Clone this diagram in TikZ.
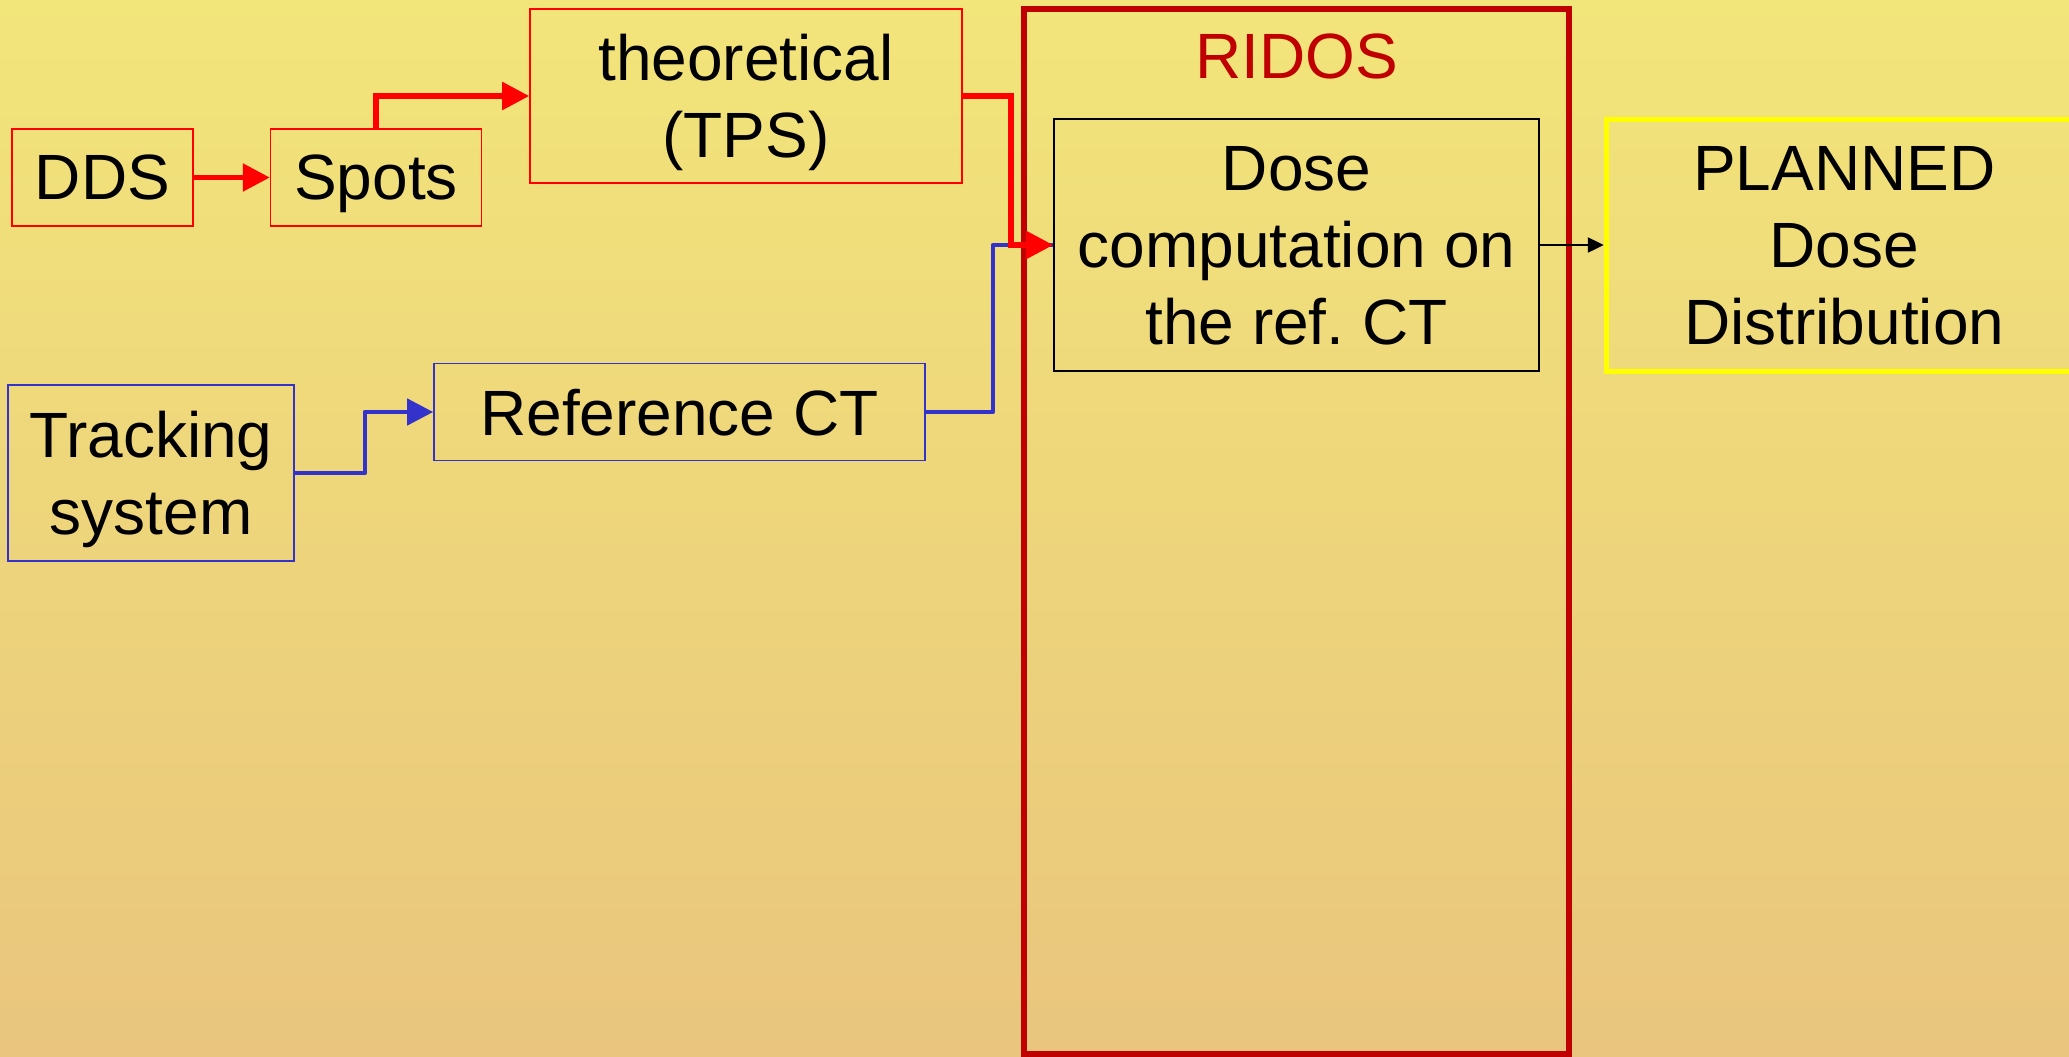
\documentclass[tikz,border=0pt]{standalone}
\usepackage{fontspec}
\setmainfont{Liberation Sans}
\usetikzlibrary{positioning,calc,arrows.meta}
\definecolor{BgTop}{HTML}{F2E57A}
\definecolor{BgBottom}{HTML}{E9C57D}
\definecolor{LinkRed}{HTML}{FF0000}
\definecolor{RidosRed}{HTML}{C00000}
\definecolor{TrackBlue}{HTML}{3333CC}
\definecolor{PlanYellow}{HTML}{FFFF00}

\begin{document}
\begin{tikzpicture}[
    x=0.5pt, y=-0.5pt,
    every node/.style={font=\fontsize{32}{38.5}\selectfont, inner sep=0pt, align=center, text=black, text depth=0pt},
    redbox/.style={rectangle, draw=LinkRed, line width=0.8pt},
    bluebox/.style={rectangle, draw=TrackBlue, line width=0.8pt},
    ridosbox/.style={rectangle, draw=RidosRed, line width=2.6pt},
    dosebox/.style={rectangle, draw=black, line width=0.8pt},
    planbox/.style={rectangle, draw=PlanYellow, line width=2.5pt},
    redarrow/.style={-{Triangle[length=13.5pt, width=13.5pt]}, line width=2.7pt, LinkRed},
    bluearrow/.style={-{Triangle[length=13pt, width=13pt]}, line width=2.2pt, TrackBlue, line join=round},
    blueline/.style={line width=2.2pt, TrackBlue, line join=round},
    thinarrow/.style={-{Triangle[length=8pt, width=7.5pt]}, line width=1.1pt, black}
  ]
    % Background
    \clip (0,0) rectangle (2069,1056);
    \shade [top color=BgTop, bottom color=BgBottom] (0,0) rectangle (2069,1056);

    % Beam data
    \node (dds) [redbox, minimum width=90.5pt, minimum height=48.5pt] at (102.5,177.5) {DDS};
    \node (spots) [redbox, right=38pt of dds, minimum width=105.5pt, minimum height=48.5pt] {Spots};
    \node (tps) [redbox, minimum width=216pt, minimum height=87pt] at (746,96) {theoretical\\(TPS)};

    % Patient data
    \node (track) [bluebox, minimum width=143pt, minimum height=88pt] at (151,473) {Tracking\\system};
    \node (refct) [bluebox, minimum width=245.5pt, minimum height=48.5pt] at (679.5,412) {Reference CT};

    % RIDOS block
    \node (ridos) [ridosbox, minimum width=272.5pt, minimum height=522.5pt] at (1296.5,531.5) {};
    \node (ridostitle) [text=RidosRed] at ([yshift=-25pt]ridos.north) {RIDOS};
    \node (dose) [dosebox, minimum width=242.5pt, minimum height=126pt] at (1296.5,245) {Dose\\computation on\\the ref.\ CT};

    % Output
    \node (planned) [planbox, right=32pt of dose, minimum width=238pt, minimum height=126pt] {PLANNED\\Dose\\Distribution};

    % Connections
    \draw [redarrow] (dds) -- (spots);
    \draw [redarrow] (spots.north) |- (tps.west);
    \draw [bluearrow] (track.east) -- ++(35pt,0) |- (refct.west);
    \draw [blueline] (refct.east) -- ++(33.5pt,0) |- (dose.west);
    \draw [redarrow] (tps.east) -- ++(24pt,0) |- (dose.west);
    \draw [thinarrow] (dose.east) -- (planned.west);
  \end{tikzpicture}
\end{document}
